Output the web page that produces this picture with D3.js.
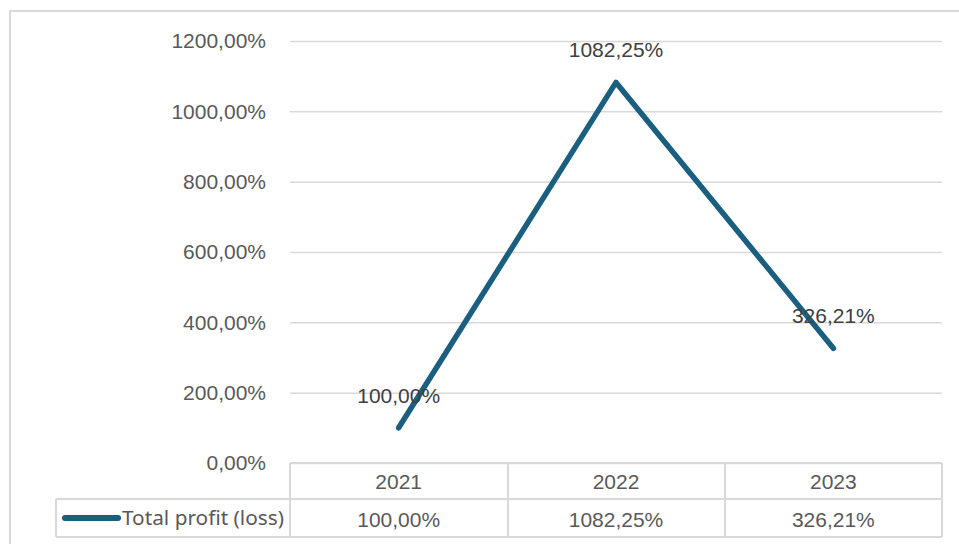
<!DOCTYPE html>
<html>
<head>
<meta charset="utf-8">
<script src="https://cdn.jsdelivr.net/npm/d3@7"></script>
<style>
    html, body { margin: 0; padding: 0; background: #fff; }
    svg { display: block; font-family: "Liberation Sans", Arial, sans-serif; }
</style>
</head>
<body>
<svg id="chart"></svg>
<script>
const years = ['2021', '2022', '2023'];
const profitValues = [100.00, 1082.25, 326.21];
const yTicks = [0, 200, 400, 600, 800, 1000, 1200];
const seriesName = 'Total profit (loss)';

const width = 959;
const height = 544;
const lineColor = '#1a5f80';
const gridColor = '#d9d9d9';
const textColor = '#595959';

const locale = d3.formatLocale({ decimal: ',', thousands: '', grouping: [3], currency: ['', ''] });
const fmt = v => locale.format('.2f')(v) + '%';

const svg = d3.select('#chart')
    .attr('width', width)
    .attr('height', height);

// chart area border (runs off the right and bottom edges)
svg.append('rect')
    .attr('x', 10)
    .attr('y', 11)
    .attr('width', 980)
    .attr('height', 560)
    .attr('fill', 'none')
    .attr('stroke', gridColor)
    .attr('stroke-width', 2);

const x = d3.scaleBand().domain(years).range([290, 942]);
const y = d3.scaleLinear().domain([0, 1200]).range([463, 41]);

// gridlines + tick labels
const yAxis = d3.axisLeft(y)
    .tickValues(yTicks)
    .tickSize(-(942 - 290))
    .tickPadding(24)
    .tickFormat(fmt);

const gy = svg.append('g')
    .attr('transform', 'translate(290,0)')
    .call(yAxis);
gy.select('.domain').remove();
gy.selectAll('.tick line')
    .attr('stroke', gridColor)
    .attr('stroke-width', 1.5);
gy.selectAll('.tick text')
    .attr('fill', textColor)
    .style('font-size', '21px')
    .style('font-family', '"Liberation Sans", Arial, sans-serif');

// line
const points = years.map((yr, i) => ({ year: yr, value: profitValues[i] }));
const line = d3.line()
    .x(d => x(d.year) + x.bandwidth() / 2)
    .y(d => y(d.value));

svg.append('path')
    .datum(points)
    .attr('d', line)
    .attr('fill', 'none')
    .attr('stroke', lineColor)
    .attr('stroke-width', 5.5)
    .attr('stroke-linejoin', 'round')
    .attr('stroke-linecap', 'round');

// data labels
svg.append('g').selectAll('text')
    .data(points)
    .join('text')
    .attr('x', d => x(d.year) + x.bandwidth() / 2)
    .attr('y', d => y(d.value) - 25)
    .attr('text-anchor', 'middle')
    .attr('fill', '#404040')
    .style('font-size', '21px')
    .text(d => fmt(d.value));

// data table
const rowTop = 463, rowMid = 499, rowBot = 537;
const table = svg.append('g');
const border = (x1, y1, x2, y2) => table.append('line')
    .attr('x1', x1).attr('y1', y1).attr('x2', x2).attr('y2', y2)
    .attr('stroke', gridColor).attr('stroke-width', 2);

border(290, rowTop, 942, rowTop);
border(56, rowMid, 942, rowMid);
border(56, rowBot, 942, rowBot);
border(56, rowMid, 56, rowBot);
[290, 508, 725, 942].forEach(px => border(px, rowTop, px, rowBot));

table.selectAll('text.year')
    .data(years)
    .join('text')
    .attr('class', 'year')
    .attr('x', d => x(d) + x.bandwidth() / 2)
    .attr('y', 489)
    .attr('text-anchor', 'middle')
    .attr('fill', textColor)
    .style('font-size', '21px')
    .text(d => d);

table.selectAll('text.val')
    .data(points)
    .join('text')
    .attr('class', 'val')
    .attr('x', d => x(d.year) + x.bandwidth() / 2)
    .attr('y', 527)
    .attr('text-anchor', 'middle')
    .attr('fill', textColor)
    .style('font-size', '21px')
    .text(d => fmt(d.value));

// legend key
table.append('line')
    .attr('x1', 65).attr('y1', 518)
    .attr('x2', 118).attr('y2', 518)
    .attr('stroke', lineColor)
    .attr('stroke-width', 6)
    .attr('stroke-linecap', 'round');

table.append('text')
    .attr('x', 122)
    .attr('y', 525)
    .attr('fill', textColor)
    .style('font-size', '20.8px')
    .style('font-family', '"Noto Sans", "Open Sans", sans-serif')
    .text(seriesName);
</script>
</body>
</html>
